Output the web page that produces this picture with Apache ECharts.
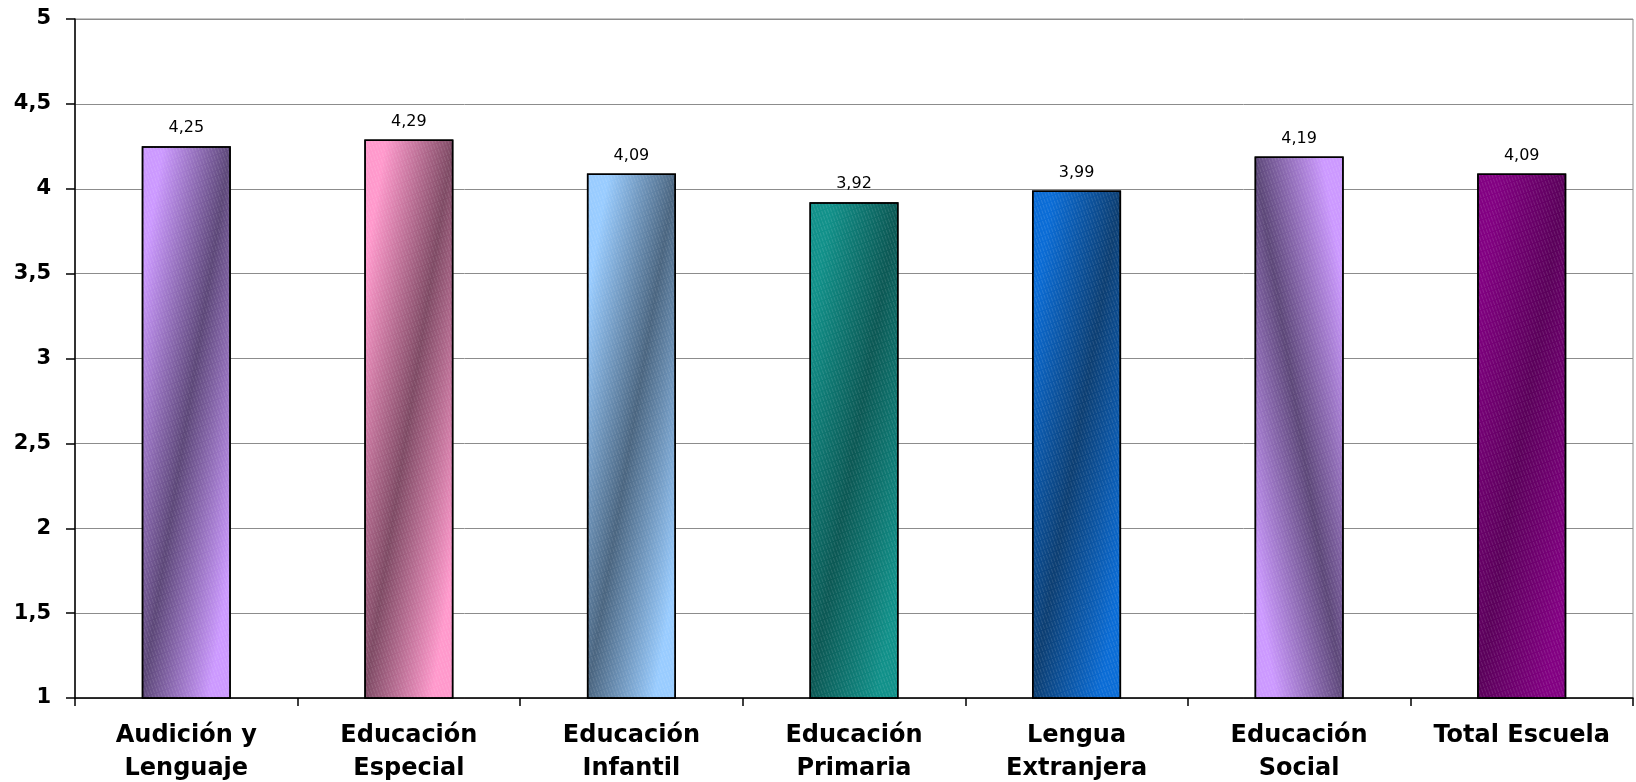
<!DOCTYPE html>
<html>
<head>
<meta charset="utf-8">
<script src="https://cdn.jsdelivr.net/npm/echarts@6/dist/echarts.min.js"></script>
<style>
  html, body { margin: 0; padding: 0; background: #ffffff; }
  #chart { width: 1636px; height: 782px; }
</style>
</head>
<body>
<div id="chart"></div>
<script>
// ---- data ----
const categories = [
  'Audición y\nLenguaje',
  'Educación\nEspecial',
  'Educación\nInfantil',
  'Educación\nPrimaria',
  'Lengua\nExtranjera',
  'Educación\nSocial',
  'Total Escuela'
];
const values = [4.25, 4.29, 4.09, 3.92, 3.99, 4.19, 4.09];
const yTicks = [1, 1.5, 2, 2.5, 3, 3.5, 4, 4.5, 5];

// ---- styles ----
const lightColors = ['#CC99FF', '#FF99CC', '#99CCFF', '#11918A', '#0A6CD6', '#CC99FF', '#820082'];
const darkColors  = ['#5C4778', '#7E4A64', '#4A6580', '#0B5854', '#0C3E72', '#5C4778', '#5A005A'];
const bandDir     = ['anti', 'anti', 'anti', 'anti', 'anti', 'main', 'anti'];

const FONT = 'DejaVu Sans';
const plotH = 679, barW = 89;

function diagGradient(light, dark, value, dir) {
  const h = Math.max(20, (value - yTicks[0]) / (yTicks[yTicks.length - 1] - yTicks[0]) * plotH);
  const w = barW;
  const L2 = h * h + w * w;
  const a = h * h / L2, b = w * w / L2;
  let x, y, x2, y2;
  if (dir === 'anti') { x = 0.5 - a; y = 0.5 - b; x2 = 0.5 + a; y2 = 0.5 + b; }
  else { x = 0.5 - a; y = 0.5 + b; x2 = 0.5 + a; y2 = 0.5 - b; }
  return new echarts.graphic.LinearGradient(x, y, x2, y2, [
    { offset: 0, color: light },
    { offset: 0.12, color: light },
    { offset: 0.5, color: dark },
    { offset: 0.88, color: light },
    { offset: 1, color: light }
  ], false);
}

const chart = echarts.init(document.getElementById('chart'), null, { renderer: 'canvas' });

const seriesData = values.map((v, i) => ({
  value: v,
  itemStyle: {
    color: diagGradient(lightColors[i], darkColors[i], v, bandDir[i]),
    borderColor: '#000000',
    borderWidth: 1.5,
    decal: {
      symbol: 'rect', symbolSize: 1,
      dashArrayX: [[1, 2]], dashArrayY: [4, 1],
      rotation: -0.35,
      color: 'rgba(255,255,255,0.12)'
    }
  }
}));

const fmtComma = v => String(v).replace('.', ',');

chart.setOption({
  animation: false,
  backgroundColor: '#ffffff',
  grid: {
    left: 75, right: 3, top: 19, bottom: 84,
    show: true, borderColor: '#8c8c8c', borderWidth: 1,
    containLabel: false, outerBoundsMode: 'none'
  },
  xAxis: {
    type: 'category',
    data: categories,
    boundaryGap: true,
    axisLine: { show: true, lineStyle: { color: '#000000', width: 1.5 } },
    axisTick: { show: true, alignWithLabel: false, length: 8, lineStyle: { color: '#000000', width: 1.5 } },
    axisLabel: {
      interval: 0, margin: 21, color: '#000000',
      fontFamily: FONT, fontWeight: 'bold', fontSize: 24, lineHeight: 33, align: 'center'
    },
    splitLine: { show: false }
  },
  yAxis: {
    type: 'value',
    min: yTicks[0], max: yTicks[yTicks.length - 1], interval: yTicks[1] - yTicks[0],
    axisLine: { show: true, lineStyle: { color: '#000000', width: 1.5 } },
    axisTick: { show: true, length: 9, lineStyle: { color: '#000000', width: 1.5 } },
    axisLabel: {
      margin: 24, color: '#000000', fontFamily: FONT, fontWeight: 'bold', fontSize: 21,
      formatter: fmtComma
    },
    splitLine: { show: true, lineStyle: { color: '#8c8c8c', width: 1 } }
  },
  series: [{
    type: 'bar',
    data: seriesData,
    barWidth: '40%',
    label: {
      show: true, position: 'top', distance: 10, color: '#000000',
      fontFamily: FONT, fontSize: 16,
      formatter: p => p.value.toFixed(2).replace('.', ',')
    }
  }]
});
</script>
</body>
</html>
